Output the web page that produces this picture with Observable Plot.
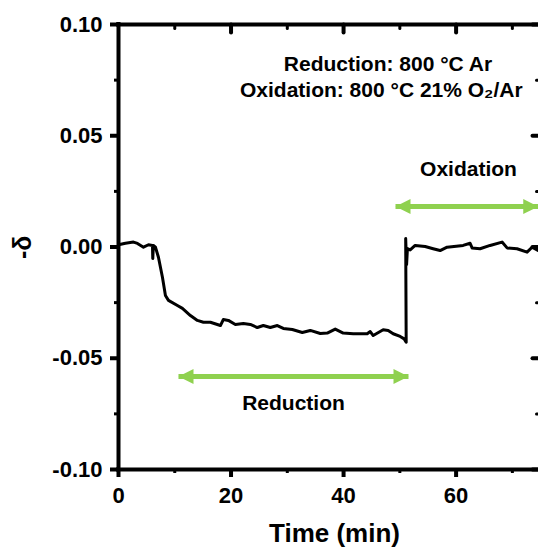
<!DOCTYPE html>
<html><head><meta charset="utf-8">
<script src="https://cdn.jsdelivr.net/npm/d3@7"></script>
<script src="https://cdn.jsdelivr.net/npm/@observablehq/plot@0.6"></script>
<style>body{margin:0;background:#fff}</style>
</head><body><div id="chart"></div>
<script>
// ---- data ----
const time = [0, 1.24, 2.66, 3.37, 4.44, 5.33, 6.04, 6.09, 6.2, 6.57, 7.1, 7.81, 8.34, 8.88, 10.47, 11.36, 12.78, 14.02, 15.09, 16.33, 18.11, 18.64, 19.53, 20.77, 22.19, 23.43, 24.68, 25.74, 26.98, 28.23, 29.29, 30.89, 32.66, 34.08, 35.86, 37.1, 38.52, 39.94, 41.72, 44.2, 44.74, 45.27, 47.04, 47.93, 48.82, 50.06, 50.77, 51.13, 51.04, 51.2, 51.35, 51.84, 52.72, 54.5, 55.92, 57.16, 58.4, 61.25, 62.49, 62.84, 64.26, 66.04, 68.17, 69.06, 70.83, 72.61, 73.5, 74.56];
const delta = [0.0010, 0.0017, 0.0022, 0.0016, -0.0001, 0.0010, 0.0007, -0.0052, 0.0007, -0.0001, -0.0046, -0.0136, -0.0218, -0.0240, -0.0263, -0.0276, -0.0308, -0.0330, -0.0338, -0.0338, -0.0353, -0.0326, -0.0330, -0.0348, -0.0344, -0.0348, -0.0362, -0.0353, -0.0362, -0.0353, -0.0366, -0.0371, -0.0384, -0.0375, -0.0389, -0.0387, -0.0369, -0.0387, -0.0390, -0.0390, -0.0380, -0.0398, -0.0372, -0.0375, -0.0390, -0.0402, -0.0413, -0.0428, 0.0038, -0.0079, -0.0007, -0.0013, 0.0007, 0.0002, -0.0008, -0.0016, -0.0001, 0.0007, 0.0017, -0.0004, -0.0008, 0.0007, 0.0022, -0.0004, -0.0008, -0.0023, -0.0001, -0.0016];

const xDomain = [0, 75];
const yDomain = [-0.10, 0.10];
const xMajorTicks = [0, 20, 40, 60];
const xMinorTicks = [10, 30, 50, 70];
const yMajorTicks = [-0.10, -0.05, 0.00, 0.05, 0.10];
const yMinorTicks = [-0.075, -0.025, 0.025, 0.075];
const xAxisTitle = "Time (min)";
const yAxisTitle = "-δ";

const noteLines = ["Reduction: 800 °C Ar", "Oxidation: 800 °C 21% O₂/Ar"];
const noteX = [47.9, 46.7];
const noteY = [0.0820, 0.0703];

const stepLabels = ["Reduction", "Oxidation"];
const stepStart = [10.66, 49.23];
const stepEnd = [51.54, 74.6];
const stepY = [-0.0582, 0.0182];
const stepLabelX = [31.1, 62.2];
const stepLabelY = [-0.0703, 0.0350];

// ---- build tables ----
const series = time.map((t, i) => ({t, d: delta[i]}));
const notes = noteLines.map((text, i) => ({text, x: noteX[i], y: noteY[i]}));
const steps = stepLabels.map((label, i) => ({label, x1: stepStart[i], x2: stepEnd[i], y: stepY[i], lx: stepLabelX[i], ly: stepLabelY[i]}));
const stepPts = steps.flatMap(s => [{x: s.x1, y: s.y, k: s.label}, {x: s.x2, y: s.y, k: s.label}]);

const green = "#8fd14f";
const font = "'Liberation Sans', Arial, sans-serif";

const headRight = {draw(ctx, size) { const r = Math.sqrt(size / Math.PI); ctx.moveTo(0, 0); ctx.lineTo(-2 * r, -r); ctx.lineTo(-2 * r, r); ctx.closePath(); }};
const headLeft = {draw(ctx, size) { const r = Math.sqrt(size / Math.PI); ctx.moveTo(0, 0); ctx.lineTo(2 * r, -r); ctx.lineTo(2 * r, r); ctx.closePath(); }};
const tickShape = {draw(ctx, l) { ctx.moveTo(0, 0); ctx.lineTo(0, -l); }};

const chart = Plot.plot({
  width: 538,
  height: 554,
  marginTop: 24,
  marginBottom: 85,
  marginLeft: 118,
  marginRight: -2,
  style: {fontFamily: font, background: "white", color: "black"},
  x: {domain: xDomain, label: null},
  y: {domain: yDomain, label: null},
  marks: [
    // frame
    Plot.ruleX([xDomain[0]], {stroke: "black", strokeWidth: 4, strokeLinecap: "square"}),
    Plot.ruleX([xDomain[1]], {stroke: "black", strokeWidth: 4, strokeLinecap: "square"}),
    Plot.ruleY([yDomain[0]], {stroke: "black", strokeWidth: 4, strokeLinecap: "square"}),
    Plot.ruleY([yDomain[1]], {stroke: "black", strokeWidth: 4, strokeLinecap: "square"}),
    // bottom & left axes (outward ticks)
    Plot.axisX({anchor: "bottom", ticks: xMajorTicks, tickSize: 8, strokeWidth: 4, tickPadding: 10, fontSize: 22, fontWeight: "bold", tickFormat: d3.format("d"), label: null}),
    Plot.axisX({anchor: "bottom", ticks: xMinorTicks, tickSize: 4, strokeWidth: 3, tickFormat: () => "", label: null}),
    Plot.axisY({anchor: "left", ticks: yMajorTicks, tickSize: 8, strokeWidth: 4, tickPadding: 8, fontSize: 22, fontWeight: "bold", tickFormat: d => d3.format(".2f")(d).replace("−", "-"), label: null}),
    Plot.axisY({anchor: "left", ticks: yMinorTicks, tickSize: 4, strokeWidth: 3, tickFormat: () => "", label: null}),
    // top & right mirrored ticks (inward)
    Plot.vector(xMajorTicks.slice(1), {x: d => d, frameAnchor: "top", length: 8, rotate: 180, anchor: "start", shape: tickShape, stroke: "black", strokeWidth: 4}),
    Plot.vector(xMinorTicks, {x: d => d, frameAnchor: "top", length: 4, rotate: 180, anchor: "start", shape: tickShape, stroke: "black", strokeWidth: 3}),
    Plot.vector(yMajorTicks, {y: d => d, frameAnchor: "right", length: 8, rotate: -90, anchor: "start", shape: tickShape, stroke: "black", strokeWidth: 4}),
    Plot.vector(yMinorTicks, {y: d => d, frameAnchor: "right", length: 4, rotate: -90, anchor: "start", shape: tickShape, stroke: "black", strokeWidth: 3}),
    // axis titles
    Plot.text([xAxisTitle], {frameAnchor: "bottom", dx: 5, dy: 72, fontSize: 26, fontWeight: "bold", fill: "black"}),
    Plot.text([yAxisTitle], {frameAnchor: "left", dx: -96, dy: 12, rotate: -90, fontSize: 25, fontWeight: "bold", fill: "black"}),
    // data
    Plot.line(series, {x: "t", y: "d", stroke: "black", strokeWidth: 3, strokeLinejoin: "round"}),
    // step arrows
    Plot.line(stepPts, {x: "x", y: "y", z: "k", stroke: green, strokeWidth: 5, strokeLinecap: "butt"}),
    Plot.dot(steps, {x: "x2", y: "y", r: 7.5, symbol: headRight, fill: green, stroke: null}),
    Plot.dot(steps, {x: "x1", y: "y", r: 7.5, symbol: headLeft, fill: green, stroke: null}),
    Plot.text(steps, {x: "lx", y: "ly", text: "label", fontSize: 21, fontWeight: "bold", fill: "black"}),
    // conditions note
    Plot.text(notes, {x: "x", y: "y", text: "text", fontSize: 21, fontWeight: "bold", fill: "black"})
  ]
});
document.getElementById("chart").appendChild(chart);
</script>
</body></html>
